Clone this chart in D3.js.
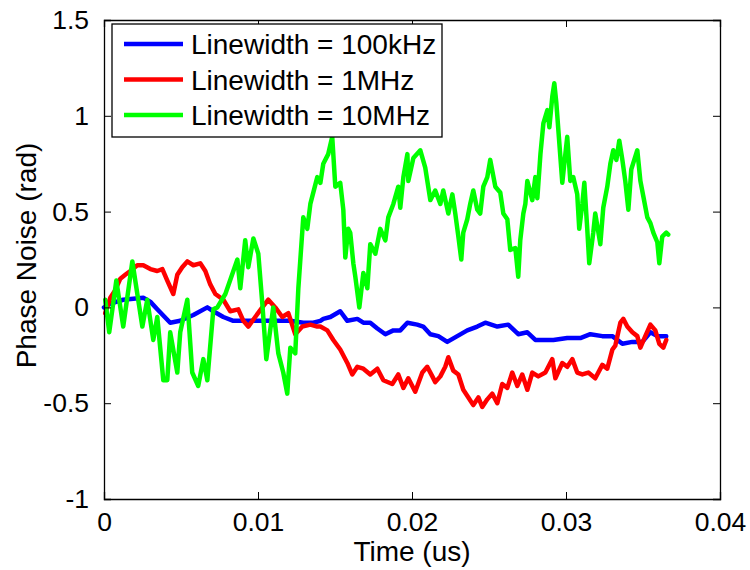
<!DOCTYPE html>
<html>
<head>
<meta charset="utf-8">
<script src="https://cdn.jsdelivr.net/npm/d3@7"></script>
<style>
  html, body { margin: 0; padding: 0; background: #fff; }
  svg { display: block; }
  text { font-family: "Liberation Sans", Arial, sans-serif; fill: #000; }
</style>
</head>
<body>
<svg id="chart" width="750" height="570"></svg>
<script>
// Phase noise traces, [time (us), phase (rad)]
const lw100kHz = [
  [0.00000, 0.00], [0.00041, 0.02], [0.00125, 0.04], [0.00255, 0.05], [0.00300, 0.03],
  [0.00346, -0.01], [0.00430, -0.08], [0.00495, -0.07], [0.00580, -0.04], [0.00671, 0.00],
  [0.00710, -0.02], [0.00775, -0.05], [0.00840, -0.07], [0.00950, -0.07], [0.01034, -0.07],
  [0.01125, -0.07], [0.01210, -0.07], [0.01294, -0.08], [0.01359, -0.08], [0.01405, -0.07],
  [0.01424, -0.06], [0.01470, -0.05], [0.01534, -0.02], [0.01580, -0.07], [0.01645, -0.06],
  [0.01684, -0.08], [0.01729, -0.08], [0.01775, -0.11], [0.01827, -0.14], [0.01879, -0.12],
  [0.01924, -0.12], [0.01970, -0.08], [0.02034, -0.09], [0.02073, -0.10], [0.02119, -0.14],
  [0.02171, -0.15], [0.02229, -0.18], [0.02294, -0.15], [0.02359, -0.12], [0.02424, -0.10],
  [0.02476, -0.08], [0.02554, -0.10], [0.02625, -0.09], [0.02690, -0.14], [0.02749, -0.13],
  [0.02801, -0.17], [0.02866, -0.17], [0.02918, -0.17], [0.03008, -0.16], [0.03093, -0.16],
  [0.03158, -0.14], [0.03236, -0.15], [0.03301, -0.15], [0.03366, -0.19], [0.03431, -0.18],
  [0.03496, -0.18], [0.03548, -0.13], [0.03593, -0.15], [0.03651, -0.15]
];

const lw1MHz = [
  [0.00008, -0.03], [0.00041, 0.05], [0.00073, 0.09], [0.00106, 0.15], [0.00138, 0.17],
  [0.00171, 0.19], [0.00216, 0.22], [0.00255, 0.22], [0.00301, 0.20], [0.00346, 0.19],
  [0.00379, 0.20], [0.00411, 0.14], [0.00450, 0.07], [0.00476, 0.17], [0.00508, 0.21],
  [0.00541, 0.24], [0.00580, 0.22], [0.00625, 0.23], [0.00658, 0.19], [0.00690, 0.12],
  [0.00723, 0.07], [0.00775, 0.04], [0.00820, -0.02], [0.00872, -0.01], [0.00905, -0.07],
  [0.00937, -0.10], [0.00982, -0.05], [0.01028, 0.00], [0.01067, 0.04], [0.01112, 0.00],
  [0.01158, -0.05], [0.01197, -0.03], [0.01242, -0.14], [0.01288, -0.10], [0.01340, -0.09],
  [0.01385, -0.10], [0.01405, -0.10], [0.01450, -0.12], [0.01489, -0.17], [0.01534, -0.22],
  [0.01580, -0.29], [0.01612, -0.35], [0.01645, -0.31], [0.01684, -0.32], [0.01729, -0.35],
  [0.01775, -0.32], [0.01814, -0.38], [0.01872, -0.40], [0.01911, -0.35], [0.01944, -0.42],
  [0.01976, -0.37], [0.02021, -0.44], [0.02067, -0.34], [0.02099, -0.31], [0.02132, -0.36],
  [0.02151, -0.39], [0.02184, -0.36], [0.02216, -0.31], [0.02236, -0.26], [0.02268, -0.33],
  [0.02301, -0.35], [0.02333, -0.43], [0.02366, -0.47], [0.02398, -0.51], [0.02431, -0.47],
  [0.02456, -0.52], [0.02489, -0.48], [0.02521, -0.45], [0.02554, -0.50], [0.02586, -0.40],
  [0.02619, -0.42], [0.02651, -0.34], [0.02684, -0.41], [0.02716, -0.35], [0.02749, -0.43],
  [0.02781, -0.34], [0.02820, -0.36], [0.02866, -0.34], [0.02911, -0.27], [0.02931, -0.37],
  [0.02976, -0.29], [0.03008, -0.31], [0.03041, -0.27], [0.03073, -0.34], [0.03106, -0.35],
  [0.03145, -0.34], [0.03190, -0.37], [0.03236, -0.30], [0.03268, -0.32], [0.03301, -0.22],
  [0.03320, -0.20], [0.03353, -0.08], [0.03372, -0.06], [0.03398, -0.10], [0.03431, -0.13],
  [0.03463, -0.15], [0.03483, -0.21], [0.03515, -0.15], [0.03548, -0.09], [0.03580, -0.12],
  [0.03606, -0.19], [0.03632, -0.21], [0.03651, -0.17]
];

const lw10MHz = [
  [0.00008, 0.04], [0.00034, -0.13], [0.00080, 0.14], [0.00125, -0.10], [0.00184, 0.24],
  [0.00249, -0.10], [0.00281, 0.04], [0.00320, -0.17], [0.00346, -0.05], [0.00385, -0.38],
  [0.00411, -0.38], [0.00430, -0.13], [0.00476, -0.34], [0.00495, -0.13], [0.00541, 0.04],
  [0.00573, -0.34], [0.00612, -0.41], [0.00645, -0.27], [0.00671, -0.38], [0.00710, -0.01],
  [0.00736, 0.00], [0.00788, 0.07], [0.00866, 0.25], [0.00885, 0.10], [0.00917, 0.35],
  [0.00937, 0.21], [0.00970, 0.36], [0.01002, 0.28], [0.01028, 0.02], [0.01054, -0.27],
  [0.01099, 0.00], [0.01132, -0.24], [0.01164, -0.34], [0.01190, -0.45], [0.01210, -0.21],
  [0.01242, -0.24], [0.01262, 0.10], [0.01294, 0.47], [0.01320, 0.41], [0.01340, 0.54],
  [0.01385, 0.68], [0.01405, 0.65], [0.01424, 0.75], [0.01456, 0.80], [0.01482, 0.89],
  [0.01502, 0.63], [0.01534, 0.65], [0.01554, 0.51], [0.01567, 0.26], [0.01586, 0.41],
  [0.01599, 0.39], [0.01619, 0.23], [0.01632, 0.16], [0.01658, 0.00], [0.01684, 0.18],
  [0.01710, 0.10], [0.01729, 0.33], [0.01762, 0.28], [0.01794, 0.41], [0.01827, 0.35],
  [0.01846, 0.47], [0.01879, 0.54], [0.01911, 0.63], [0.01924, 0.52], [0.01944, 0.68],
  [0.01970, 0.80], [0.01976, 0.66], [0.02009, 0.78], [0.02054, 0.82], [0.02086, 0.73],
  [0.02119, 0.56], [0.02151, 0.61], [0.02184, 0.54], [0.02203, 0.61], [0.02236, 0.49],
  [0.02262, 0.59], [0.02281, 0.49], [0.02301, 0.37], [0.02320, 0.25], [0.02333, 0.39],
  [0.02359, 0.46], [0.02378, 0.54], [0.02398, 0.61], [0.02424, 0.51], [0.02443, 0.49],
  [0.02463, 0.63], [0.02489, 0.68], [0.02508, 0.77], [0.02541, 0.63], [0.02573, 0.60],
  [0.02593, 0.49], [0.02619, 0.46], [0.02638, 0.30], [0.02671, 0.31], [0.02690, 0.16],
  [0.02703, 0.35], [0.02723, 0.49], [0.02736, 0.54], [0.02749, 0.66], [0.02781, 0.56],
  [0.02801, 0.68], [0.02814, 0.57], [0.02834, 0.80], [0.02853, 0.96], [0.02879, 1.03],
  [0.02892, 0.94], [0.02911, 1.10], [0.02924, 1.17], [0.02937, 1.07], [0.02950, 0.93],
  [0.02976, 0.65], [0.02989, 0.75], [0.03008, 0.89], [0.03028, 0.66], [0.03047, 0.68],
  [0.03073, 0.59], [0.03086, 0.41], [0.03106, 0.54], [0.03119, 0.65], [0.03138, 0.41],
  [0.03151, 0.23], [0.03177, 0.39], [0.03190, 0.49], [0.03223, 0.33], [0.03242, 0.52],
  [0.03268, 0.63], [0.03288, 0.75], [0.03307, 0.82], [0.03327, 0.77], [0.03346, 0.87],
  [0.03366, 0.77], [0.03385, 0.66], [0.03405, 0.51], [0.03424, 0.72], [0.03463, 0.82],
  [0.03483, 0.66], [0.03502, 0.58], [0.03528, 0.47], [0.03548, 0.44], [0.03567, 0.39],
  [0.03593, 0.34], [0.03606, 0.23], [0.03625, 0.37], [0.03651, 0.39], [0.03664, 0.38]
];

const seriesNames = ["Linewidth = 100kHz", "Linewidth = 1MHz", "Linewidth = 10MHz"];
const seriesColors = ["#0000ff", "#ff0000", "#00ff00"];
const xTicks = [0, 0.01, 0.02, 0.03, 0.04];
const xTickLabels = ["0", "0.01", "0.02", "0.03", "0.04"];
const yTicks = [-1, -0.5, 0, 0.5, 1, 1.5];
const yTickLabels = ["-1", "-0.5", "0", "0.5", "1", "1.5"];

const svg = d3.select("#chart");
const margin = { left: 104, right: 30, top: 20, bottom: 71 };
const W = 750, H = 570;
const x = d3.scaleLinear().domain([0, 0.04]).range([margin.left, W - margin.right]);
const y = d3.scaleLinear().domain([-1, 1.5]).range([H - margin.bottom, margin.top]);
const tickFont = 26.5;
const labelFont = 28;

// traces
const line = d3.line().x(d => x(d[0])).y(d => y(d[1]));
const traces = [lw100kHz, lw1MHz, lw10MHz];
svg.append("g").selectAll("path").data(traces).join("path")
  .attr("d", line)
  .attr("fill", "none")
  .attr("stroke", (d, i) => seriesColors[i])
  .attr("stroke-width", 4.5)
  .attr("stroke-linejoin", "round")
  .attr("stroke-linecap", "round");

// axes with inward ticks on all four sides
const tickLen = 7;
const axB = d3.axisBottom(x).tickValues(xTicks).tickSize(-tickLen).tickPadding(tickLen + 6)
  .tickFormat((d, i) => xTickLabels[i]);
const axT = d3.axisTop(x).tickValues(xTicks).tickSize(-tickLen).tickFormat("");
const axL = d3.axisLeft(y).tickValues(yTicks).tickSize(-tickLen).tickPadding(tickLen + 8)
  .tickFormat((d, i) => yTickLabels[i]);
const axR = d3.axisRight(y).tickValues(yTicks).tickSize(-tickLen).tickFormat("");

function styleAxis(g) {
  g.select(".domain").attr("stroke", "#000").attr("stroke-width", 1.3);
  g.selectAll(".tick line").attr("stroke", "#000").attr("stroke-width", 1);
  g.selectAll("text").style("font-size", tickFont + "px")
    .style("font-family", "'Liberation Sans', Arial, sans-serif").attr("fill", "#000");
}
svg.append("g").attr("transform", `translate(0,${y(-1)})`).call(axB).call(styleAxis);
svg.append("g").attr("transform", `translate(0,${y(1.5)})`).call(axT).call(styleAxis);
svg.append("g").attr("transform", `translate(${x(0)},0)`).call(axL).call(styleAxis);
svg.append("g").attr("transform", `translate(${x(0.04)},0)`).call(axR).call(styleAxis);

// axis titles
svg.append("text")
  .attr("x", (x(0) + x(0.04)) / 2).attr("y", 561)
  .attr("text-anchor", "middle").style("font-size", labelFont + "px")
  .text("Time (us)");
svg.append("text")
  .attr("transform", `translate(36,${(y(-1) + y(1.5)) / 2 - 4}) rotate(-90)`)
  .attr("text-anchor", "middle").style("font-size", labelFont + "px")
  .text("Phase Noise (rad)");

// legend
const leg = svg.append("g").attr("transform", "translate(112,24)");
leg.append("rect").attr("width", 330).attr("height", 113)
  .attr("fill", "#fff").attr("stroke", "#000").attr("stroke-width", 1.3);
seriesNames.forEach((name, i) => {
  const cy = 20 + i * 35.5;
  leg.append("line").attr("x1", 12).attr("x2", 71).attr("y1", cy).attr("y2", cy)
    .attr("stroke", seriesColors[i]).attr("stroke-width", 4.5);
  leg.append("text").attr("x", 79).attr("y", cy + 10)
    .style("font-size", labelFont + "px").text(name);
});
</script>
</body>
</html>
